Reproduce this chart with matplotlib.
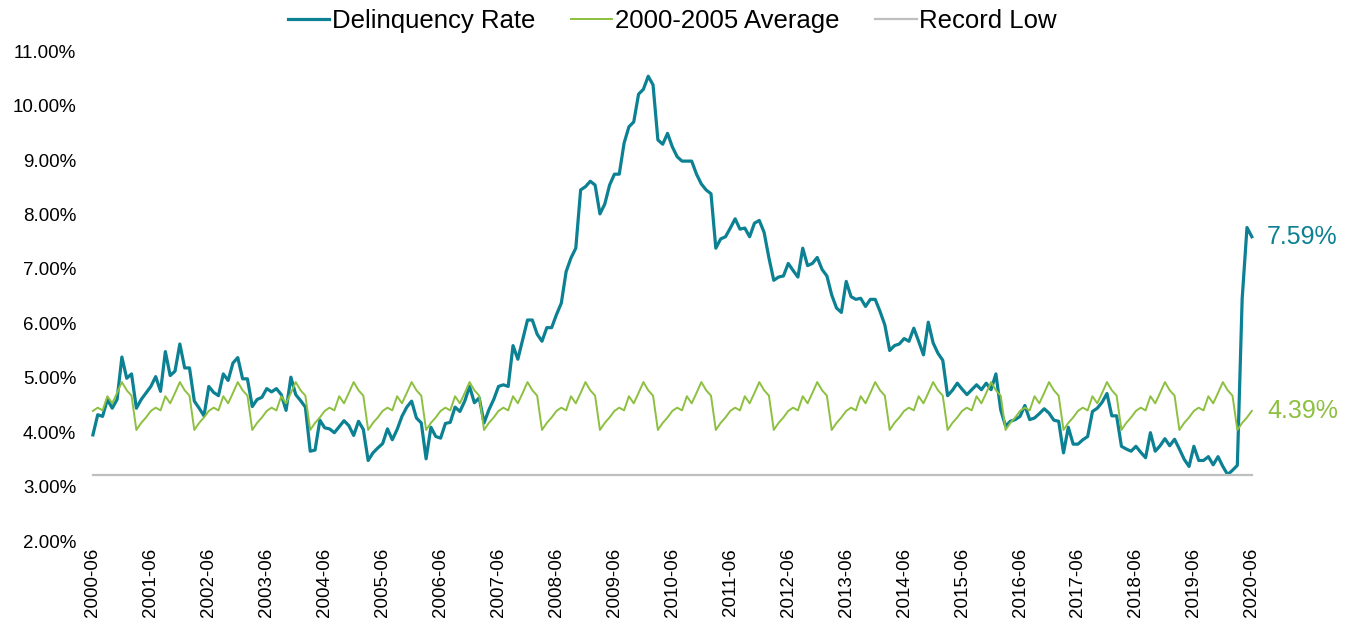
import matplotlib
matplotlib.use('Agg')
import matplotlib.pyplot as plt
import numpy as np

plt.rcParams['font.family'] = ['Liberation Sans', 'DejaVu Sans']

# monthly delinquency rate, Jun 2000 .. Jun 2020 (one row = Jun..May)
delinquency = [
    3.95, 4.32, 4.29, 4.60, 4.44, 4.60, 5.38, 4.99, 5.07, 4.44, 4.60, 4.72,
    4.84, 5.02, 4.75, 5.48, 5.04, 5.12, 5.62, 5.18, 5.18, 4.57, 4.44, 4.30,
    4.84, 4.73, 4.67, 5.07, 4.95, 5.27, 5.37, 4.98, 4.98, 4.47, 4.60, 4.64,
    4.80, 4.74, 4.80, 4.69, 4.40, 5.01, 4.69, 4.58, 4.46, 3.65, 3.67, 4.22,
    4.08, 4.06, 3.99, 4.10, 4.21, 4.12, 3.94, 4.20, 4.05, 3.48, 3.62, 3.71,
    3.79, 4.06, 3.86, 4.05, 4.29, 4.46, 4.57, 4.26, 4.17, 3.51, 4.09, 3.92,
    3.89, 4.16, 4.18, 4.46, 4.38, 4.57, 4.84, 4.54, 4.63, 4.17, 4.41, 4.60,
    4.84, 4.87, 4.84, 5.59, 5.34, 5.70, 6.06, 6.06, 5.80, 5.67, 5.92, 5.92,
    6.16, 6.37, 6.95, 7.20, 7.38, 8.45, 8.51, 8.61, 8.54, 8.01, 8.19, 8.54,
    8.74, 8.74, 9.31, 9.61, 9.70, 10.21, 10.30, 10.54, 10.38, 9.37, 9.29, 9.49,
    9.24, 9.06, 8.98, 8.98, 8.98, 8.74, 8.56, 8.45, 8.38, 7.38, 7.55, 7.59,
    7.75, 7.92, 7.73, 7.75, 7.59, 7.84, 7.89, 7.67, 7.20, 6.79, 6.85, 6.87,
    7.10, 6.97, 6.85, 7.38, 7.06, 7.10, 7.21, 6.99, 6.87, 6.52, 6.28, 6.20,
    6.77, 6.49, 6.44, 6.46, 6.31, 6.44, 6.44, 6.22, 5.97, 5.50, 5.59, 5.62,
    5.72, 5.67, 5.91, 5.67, 5.42, 6.02, 5.64, 5.45, 5.32, 4.67, 4.77, 4.90,
    4.79, 4.69, 4.78, 4.87, 4.78, 4.90, 4.78, 5.07, 4.41, 4.11, 4.20, 4.23,
    4.29, 4.49, 4.23, 4.26, 4.34, 4.43, 4.35, 4.22, 4.20, 3.62, 4.09, 3.78,
    3.78, 3.86, 3.92, 4.38, 4.44, 4.55, 4.71, 4.30, 4.30, 3.74, 3.69, 3.65,
    3.74, 3.63, 3.53, 3.99, 3.65, 3.75, 3.88, 3.75, 3.87, 3.69, 3.50, 3.37,
    3.74, 3.48, 3.48, 3.55, 3.40, 3.55, 3.37, 3.22, 3.30, 3.39, 6.45, 7.76,
    7.59,
]

# 2000-2005 seasonal average, Jun..May
avg_by_month = [4.39, 4.45, 4.40, 4.66, 4.53, 4.72, 4.92, 4.77, 4.67, 4.04, 4.17, 4.27]
record_low = 3.22

xlabels = [str(y) + '-06' for y in range(2000, 2021)]

teal = '#0B8193'
green = '#8DC040'
grey = '#BFBFBF'

n = len(delinquency)
x = np.arange(n)
avg = np.resize(avg_by_month, n)

fig = plt.figure(figsize=(13.45, 6.24), dpi=100)
ax = fig.add_axes([0.0619, 0.133, 0.876, 0.785])

l1, = ax.plot(x, delinquency, color=teal, lw=2.3, label='Delinquency Rate')
l2, = ax.plot(x, avg, color=green, lw=1.4, label='2000-2005 Average')
l3, = ax.plot([0, n - 1], [record_low, record_low], color=grey, lw=1.6, label='Record Low')

ax.set_xlim(-2, n + 1)
ax.set_ylim(2, 11)
ax.set_yticks(np.arange(2, 12, 1))
ax.set_yticklabels(['%.2f%%' % v for v in np.arange(2, 12, 1)], fontsize=13.5)
ax.set_xticks(np.arange(0, n, 12))
ax.set_xticklabels(xlabels, rotation=90, fontsize=13.5)
ax.tick_params(length=0, pad=5)
for s in ax.spines.values():
    s.set_visible(False)

ax.annotate('%.2f%%' % delinquency[-1], xy=(n - 1, delinquency[-1]), xytext=(11, 0),
            textcoords='offset points', va='center', ha='left', color=teal, fontsize=18)
ax.annotate('%.2f%%' % avg[-1], xy=(n - 1, avg[-1]), xytext=(11, 0),
            textcoords='offset points', va='center', ha='left', color=green, fontsize=18)

fig.legend(handles=[l1, l2, l3], loc='center', bbox_to_anchor=(0.5, 0.967), ncol=3,
           frameon=False, fontsize=18.5, handlelength=1.6, handletextpad=0.1,
           columnspacing=1.4)

fig.savefig('out.png', dpi=100)
